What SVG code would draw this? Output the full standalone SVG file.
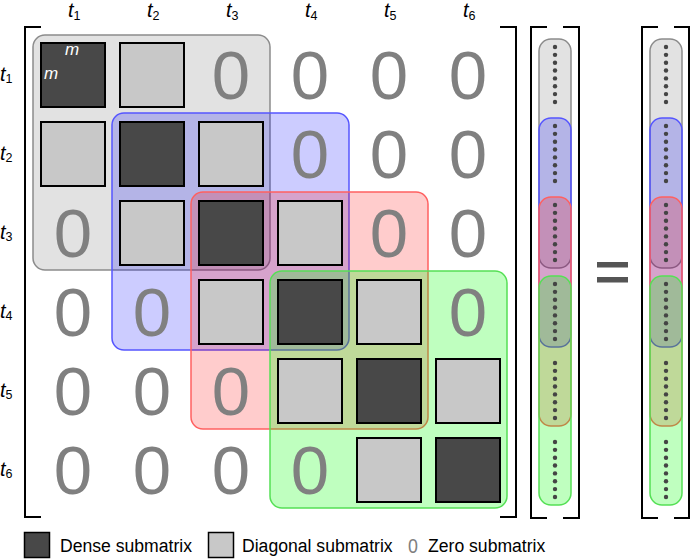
<svg xmlns="http://www.w3.org/2000/svg" xmlns:xlink="http://www.w3.org/1999/xlink" width="692" height="560" viewBox="0 0 692 560">
<style>
.lbl{font-family:"Liberation Sans",Arial,sans-serif;font-style:italic;font-size:20px;fill:#000}
.sub{font-size:12.5px;font-style:normal}
.zero{font-family:"Liberation Sans",Arial,sans-serif;font-size:69px;fill:#808080;text-anchor:middle}
.dense{fill:#484848;stroke:#000;stroke-width:2}
.diag{fill:#c8c8c8;stroke:#000;stroke-width:2}
.br{fill:none;stroke:#000;stroke-width:2}
.bx-gray{fill:#e2e2e2;stroke:#8c8c8c;stroke-width:1.5}
.bx-blue{fill:rgba(0,0,255,0.2);stroke:#5555ff;stroke-width:1.5}
.bx-red{fill:rgba(255,0,0,0.2);stroke:#ff6060;stroke-width:1.5}
.bx-green{fill:rgba(0,255,0,0.25);stroke:#55e055;stroke-width:1.5}
.leg{font-family:"Liberation Sans",Arial,sans-serif;font-size:17.6px;fill:#000}
.m{font-family:"Liberation Sans",Arial,sans-serif;font-style:italic;font-size:17px;fill:#fff}
</style>
<defs>
<g id="dots8" fill="#444">
<circle cx="0" cy="0" r="2.2"/><circle cx="0" cy="7.85" r="2.2"/><circle cx="0" cy="15.7" r="2.2"/><circle cx="0" cy="23.55" r="2.2"/>
<circle cx="0" cy="31.4" r="2.2"/><circle cx="0" cy="39.25" r="2.2"/><circle cx="0" cy="47.1" r="2.2"/><circle cx="0" cy="54.95" r="2.2"/>
</g>
</defs>

<g id="col-labels" class="lbl">
<text x="68" y="17">t<tspan class="sub" dy="3">1</tspan></text>
<text x="147" y="17">t<tspan class="sub" dy="3">2</tspan></text>
<text x="226" y="17">t<tspan class="sub" dy="3">3</tspan></text>
<text x="305" y="17">t<tspan class="sub" dy="3">4</tspan></text>
<text x="384" y="17">t<tspan class="sub" dy="3">5</tspan></text>
<text x="463" y="17">t<tspan class="sub" dy="3">6</tspan></text>
</g>
<g id="row-labels" class="lbl">
<text x="0" y="81">t<tspan class="sub" dy="2">1</tspan></text>
<text x="0" y="160">t<tspan class="sub" dy="2">2</tspan></text>
<text x="0" y="239">t<tspan class="sub" dy="2">3</tspan></text>
<text x="0" y="318">t<tspan class="sub" dy="2">4</tspan></text>
<text x="0" y="397">t<tspan class="sub" dy="2">5</tspan></text>
<text x="0" y="476">t<tspan class="sub" dy="2">6</tspan></text>
</g>

<g id="matrix-brackets">
<path class="br" d="M41 27 H25 V517 H41"/>
<path class="br" d="M500 27 H516 V517 H500"/>
</g>

<g id="window-boxes">
<rect id="box-gray" class="bx-gray" x="33" y="35" width="237" height="235" rx="12"/>
<rect id="box-blue" class="bx-blue" x="112" y="113" width="237" height="237" rx="12"/>
<rect id="box-red" class="bx-red" x="191" y="192" width="237" height="237" rx="12"/>
<rect id="box-green" class="bx-green" x="270" y="271" width="237" height="237" rx="12"/>
</g>

<g id="cells">
<g id="r1">
<rect class="dense" x="41" y="43" width="64" height="64"/>
<rect class="diag" x="120" y="43" width="64" height="64"/>
<text class="zero" x="231" y="99">0</text><text class="zero" x="310" y="99">0</text><text class="zero" x="389" y="99">0</text><text class="zero" x="468" y="99">0</text>
</g>
<g id="r2">
<rect class="diag" x="41" y="122" width="64" height="64"/>
<rect class="dense" x="120" y="122" width="64" height="64"/>
<rect class="diag" x="199" y="122" width="64" height="64"/>
<text class="zero" x="310" y="178">0</text><text class="zero" x="389" y="178">0</text><text class="zero" x="468" y="178">0</text>
</g>
<g id="r3">
<text class="zero" x="73" y="257">0</text>
<rect class="diag" x="120" y="201" width="64" height="64"/>
<rect class="dense" x="199" y="201" width="64" height="64"/>
<rect class="diag" x="278" y="201" width="64" height="64"/>
<text class="zero" x="389" y="257">0</text><text class="zero" x="468" y="257">0</text>
</g>
<g id="r4">
<text class="zero" x="73" y="336">0</text><text class="zero" x="152" y="336">0</text>
<rect class="diag" x="199" y="280" width="64" height="64"/>
<rect class="dense" x="278" y="280" width="64" height="64"/>
<rect class="diag" x="357" y="280" width="64" height="64"/>
<text class="zero" x="468" y="336">0</text>
</g>
<g id="r5">
<text class="zero" x="73" y="415">0</text><text class="zero" x="152" y="415">0</text><text class="zero" x="231" y="415">0</text>
<rect class="diag" x="278" y="359" width="64" height="64"/>
<rect class="dense" x="357" y="359" width="64" height="64"/>
<rect class="diag" x="436" y="359" width="64" height="64"/>
</g>
<g id="r6">
<text class="zero" x="73" y="494">0</text><text class="zero" x="152" y="494">0</text><text class="zero" x="231" y="494">0</text><text class="zero" x="310" y="494">0</text>
<rect class="diag" x="357" y="438" width="64" height="64"/>
<rect class="dense" x="436" y="438" width="64" height="64"/>
</g>
<g id="m-labels">
<text class="m" x="65" y="55">m</text>
<text class="m" x="44" y="79">m</text>
</g>
</g>

<g id="vector-left">
<path class="br" d="M547 27 H531 V518 H547"/>
<path class="br" d="M563 27 H579 V518 H563"/>
<rect class="bx-gray" x="539" y="39" width="32" height="229" rx="12"/>
<rect class="bx-blue" x="539" y="118" width="32" height="229" rx="12"/>
<rect class="bx-red" x="539" y="197" width="32" height="229" rx="12"/>
<rect class="bx-green" x="539" y="276" width="32" height="229" rx="12"/>
<use href="#dots8" xlink:href="#dots8" x="555" y="47"/>
<use href="#dots8" xlink:href="#dots8" x="555" y="126"/>
<use href="#dots8" xlink:href="#dots8" x="555" y="205"/>
<use href="#dots8" xlink:href="#dots8" x="555" y="284"/>
<use href="#dots8" xlink:href="#dots8" x="555" y="363"/>
<use href="#dots8" xlink:href="#dots8" x="555" y="442"/>
</g>

<g id="equals" fill="#555">
<rect x="597" y="262" width="31" height="5.5"/>
<rect x="597" y="277" width="31" height="5.5"/>
</g>

<g id="vector-right">
<path class="br" d="M658 27 H642 V518 H658"/>
<path class="br" d="M674 27 H689 V518 H674"/>
<rect class="bx-gray" x="650" y="39" width="32" height="229" rx="12"/>
<rect class="bx-blue" x="650" y="118" width="32" height="229" rx="12"/>
<rect class="bx-red" x="650" y="197" width="32" height="229" rx="12"/>
<rect class="bx-green" x="650" y="276" width="32" height="229" rx="12"/>
<use href="#dots8" xlink:href="#dots8" x="666" y="47"/>
<use href="#dots8" xlink:href="#dots8" x="666" y="126"/>
<use href="#dots8" xlink:href="#dots8" x="666" y="205"/>
<use href="#dots8" xlink:href="#dots8" x="666" y="284"/>
<use href="#dots8" xlink:href="#dots8" x="666" y="363"/>
<use href="#dots8" xlink:href="#dots8" x="666" y="442"/>
</g>

<g id="legend">
<rect x="24.5" y="532.5" width="25" height="25" fill="#484848" stroke="#000" stroke-width="1.5"/>
<text class="leg" x="60" y="552">Dense submatrix</text>
<rect x="208.5" y="532.5" width="25" height="25" fill="#c8c8c8" stroke="#000" stroke-width="1.5"/>
<text class="leg" x="242" y="552">Diagonal submatrix</text>
<text transform="translate(413,552.5) scale(0.85,1)" font-family="Liberation Sans, Arial, sans-serif" font-size="21" fill="#808080" text-anchor="middle">0</text>
<text class="leg" x="428" y="552">Zero submatrix</text>
</g>
</svg>
